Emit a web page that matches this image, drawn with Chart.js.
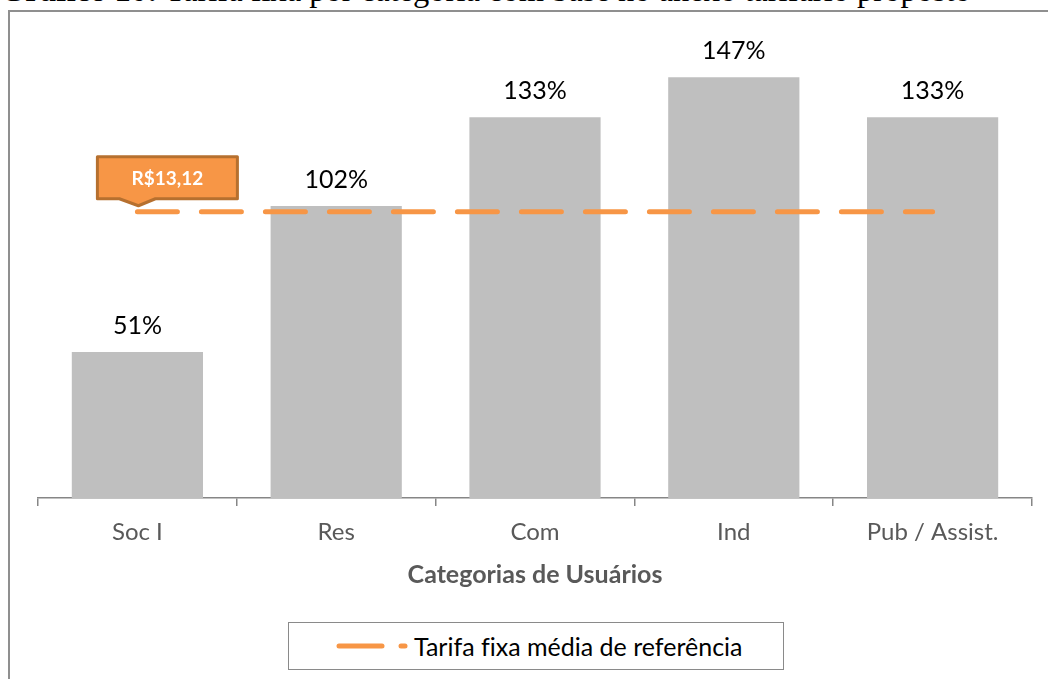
<!DOCTYPE html>
<html>
<head>
<meta charset="utf-8">
<script src="https://cdn.jsdelivr.net/npm/chart.js@4/dist/chart.umd.min.js"></script>
<style>
  html, body { margin: 0; padding: 0; background: #fff; overflow: hidden; }
  body { width: 1048px; height: 679px; position: relative; }
  #title { position: absolute; left: 0; top: -26px; font-family: "Liberation Serif", "Times New Roman", serif; font-size: 32.5px; color: #000; white-space: nowrap; line-height: 32px; }
  #frame { position: absolute; left: 8px; top: 10px; width: 1200px; height: 900px; border: 2px solid #8f8f8f; box-sizing: border-box; }
  #wrap { position: absolute; left: 0; top: 0; width: 1048px; height: 679px; }
  #legend { position: absolute; left: 288px; top: 622px; width: 496px; height: 48px; border: 1px solid #8a8a8a; box-sizing: border-box; background: #fff; font-family: Lato, "Noto Sans", sans-serif; font-size: 25px; color: #000; display: flex; align-items: center; font-variant-ligatures: none; }
  #legend svg { margin-left: 47px; margin-right: 6px; }
</style>
</head>
<body>
<div id="title"><b>Gráfico 10:</b> Tarifa fixa por categoria com base no anexo tarifário proposto</div>
<div id="frame"></div>
<div id="wrap"><canvas id="c" width="1048" height="679"></canvas></div>
<div id="legend"><svg width="72" height="12"><line x1="3" y1="6" x2="46" y2="6" stroke="#F79646" stroke-width="5" stroke-linecap="round"/><line x1="65" y1="6" x2="69" y2="6" stroke="#F79646" stroke-width="5" stroke-linecap="round"/></svg><span id="legtext"></span></div>
<script>
const categories = ["Soc I", "Res", "Com", "Ind", "Pub / Assist."];
const tarifaPercent = [51, 102, 133, 147, 133];
const referencia = [100, 100, 100, 100, 100];
const referenciaLabel = "R$13,12";
const axisTitle = "Categorias de Usuários";
const legendLabel = "Tarifa fixa média de referência";

document.getElementById('legtext').textContent = legendLabel;

const FONT = 'Lato, "Noto Sans", sans-serif';

const decor = {
  id: 'decor',
  afterDraw(chart) {
    const ctx = chart.ctx;
    ctx.save();
    ctx.font = 'bold 25px ' + FONT;
    ctx.fillStyle = '#595959';
    ctx.textAlign = 'center';
    ctx.textBaseline = 'middle';
    const xs = chart.scales.x;
    ctx.fillText(axisTitle, (xs.left + xs.right) / 2, 575);
    ctx.restore();
  },
  afterDatasetsDraw(chart) {
    const ctx = chart.ctx;
    const barMeta = chart.getDatasetMeta(0);
    ctx.save();
    ctx.font = '25px ' + FONT;
    ctx.fillStyle = '#000';
    ctx.textAlign = 'center';
    ctx.textBaseline = 'middle';
    barMeta.data.forEach((el, i) => {
      ctx.fillText(tarifaPercent[i] + '%', el.x, el.y - 26);
    });
    ctx.restore();
    const lineMeta = chart.getDatasetMeta(1);
    const p = lineMeta.data[0];
    const x = p.x, y = p.y;
    const L = x - 40, R = x + 100, T = y - 55, B = y - 13;
    ctx.save();
    ctx.beginPath();
    ctx.moveTo(L, T);
    ctx.lineTo(R, T);
    ctx.lineTo(R, B);
    ctx.lineTo(x + 18, B);
    ctx.lineTo(x + 1, y - 6);
    ctx.lineTo(x - 18, B);
    ctx.lineTo(L, B);
    ctx.closePath();
    ctx.fillStyle = '#F79646';
    ctx.fill();
    ctx.lineWidth = 3;
    ctx.strokeStyle = '#B6702F';
    ctx.lineJoin = 'round';
    ctx.stroke();
    ctx.fillStyle = '#fff';
    ctx.font = 'bold 19px ' + FONT;
    ctx.textAlign = 'center';
    ctx.textBaseline = 'middle';
    ctx.fillText(referenciaLabel, (L + R) / 2, (T + B) / 2 + 1);
    ctx.restore();
  }
};

new Chart(document.getElementById('c'), {
  data: {
    labels: categories,
    datasets: [
      {
        type: 'bar',
        label: 'Tarifa',
        data: tarifaPercent,
        backgroundColor: '#BFBFBF',
        barPercentage: 0.66,
        categoryPercentage: 1.0,
        order: 2
      },
      {
        type: 'line',
        label: legendLabel,
        data: referencia,
        borderColor: '#F79646',
        borderWidth: 5,
        borderDash: [40, 24],
        borderCapStyle: 'round',
        pointRadius: 0,
        fill: false,
        order: 1
      }
    ]
  },
  options: {
    responsive: false,
    animation: false,
    events: [],
    layout: { padding: { left: 38, right: 16, top: 40, bottom: 0 } },
    plugins: { legend: { display: false }, tooltip: { enabled: false } },
    scales: {
      y: { display: false, min: 0, max: 160 },
      x: {
        offset: true,
        afterFit(scale) { scale.height = 181; },
        grid: { offset: true, drawOnChartArea: false, drawTicks: true, tickLength: 8, color: '#868686', lineWidth: 1.5 },
        border: { color: '#868686', width: 1.5 },
        ticks: { color: '#595959', font: { family: FONT, size: 24 }, padding: 12 },
        title: { display: false }
      }
    }
  },
  plugins: [decor]
});
</script>
</body>
</html>
